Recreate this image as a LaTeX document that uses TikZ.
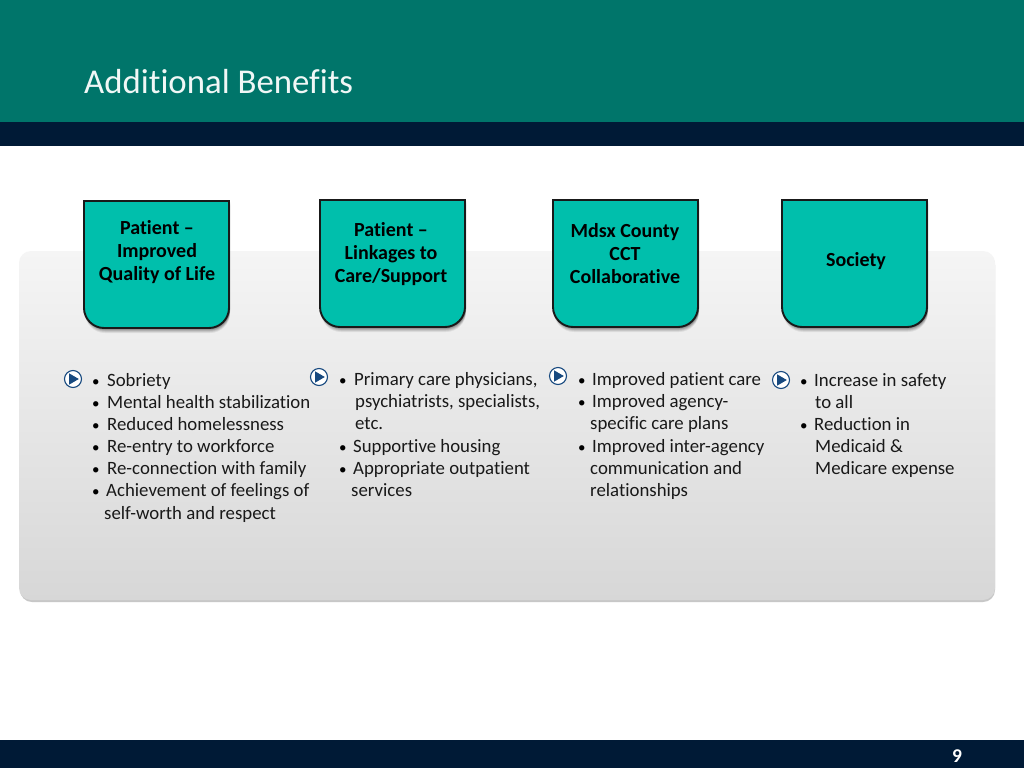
\documentclass[tikz,border=0pt]{standalone}
\usepackage{fontspec}
\setmainfont{Carlito}[Ligatures=CommonOff]
\definecolor{headteal}{HTML}{00756A}
\definecolor{navybar}{HTML}{001A36}
\definecolor{cardteal}{HTML}{00BFAC}
\definecolor{iconblue}{HTML}{17497F}
\definecolor{paneltop}{HTML}{F5F5F5}
\definecolor{panelbot}{HTML}{D7D7D7}
\tikzset{
  x=1pt,y=-1pt,
  cardtext/.style={font=\fontsize{20}{23}\selectfont\bfseries,text=black,align=center,inner sep=0pt},
  line/.style={font=\fontsize{18.8}{22}\selectfont,text=black!90,anchor=base west,inner sep=0pt},
  bul/.style={font=\fontsize{15}{22}\selectfont,text=black,anchor=base west,inner sep=0pt},
  cardedge/.style={draw=black!90,line width=1.9pt,fill=cardteal},
  iconring/.style={circle,draw=iconblue,line width=1.1pt,fill=white,minimum size=17pt,inner sep=0pt},
  icontri/.style={fill=iconblue,draw=none}
}
\newcommand{\cardpath}[4]{% x1,x2,ytop,ybottom
  (#1,#3) -- (#2,#3) -- (#2,#4-20) .. controls (#2,#4-9) and (#2-9,#4) .. (#2-20,#4) -- (#1+20,#4) .. controls (#1+9,#4) and (#1,#4-9) .. (#1,#4-20) -- cycle
}
\newcommand{\cardat}[3]{% x1,x2,ytop
  \pgfmathsetmacro{\cb}{#3+127}
  \foreach \o/\a in {5/.07,4/.09,3/.11,2/.13,1/.15}{
    \fill[black,opacity=\a] \cardpath{#1+1}{#2+1}{#3+\o}{\cb+\o};
  }
  \path[cardedge] \cardpath{#1}{#2}{#3}{\cb};
}
\newcommand{\iconat}[3]{% name,x,y
  \node[iconring] (#1) at (#2,#3) {};
  \fill[icontri] (#2-3.8,#3-5.6) -- (#2+5.8,#3) -- (#2-3.8,#3+5.6) -- cycle;
}
\begin{document}
\begin{tikzpicture}
\useasboundingbox (0,0) rectangle (1024,768);
\fill[white] (0,0) rectangle (1024,768);
\fill[headteal] (0,0) rectangle (1024,122);
\fill[navybar] (0,122) rectangle (1024,146);
\fill[navybar] (0,740) rectangle (1024,768);
\node[anchor=base west,inner sep=0pt,text=white!94!headteal,font=\fontsize{34.8}{36}\selectfont] (title) at (84,93) {Additional Benefits};
\node[anchor=base,inner sep=0pt,text=white,font=\fontsize{19.5}{22}\selectfont\bfseries] (pagenum) at (957,762) {9};
% panel
\fill[black!22,rounded corners=12pt] (20,253) rectangle (995,602);
\shade[top color=paneltop,bottom color=panelbot,rounded corners=12pt] (19,251) rectangle (995,600);
% cards
\cardat{84}{229}{201}
\cardat{320}{465}{200}
\cardat{553}{698}{200}
\cardat{782}{927}{200}
\node[cardtext] (c1) at (157,252.5) {Patient –\\Improved\\Quality of Life};
\node[cardtext] (c2) at (391,254.5) {Patient –\\Linkages to\\Care/Support};
\node[cardtext] (c3) at (625,253.5) {Mdsx County\\CCT\\Collaborative};
\node[cardtext] (c4) at (856,261.5) {Society};
% icons
\iconat{i1}{73}{379}
\iconat{i2}{319}{377}
\iconat{i3}{558}{376}
\iconat{i4}{781}{380}
% column 1
\node[bul] (b11) at (92,386) {•}; \node[line] (t11) at (107,386) {Sobriety};
\node[bul] (b12) at (92,408) {•}; \node[line] (t12) at (107,408) {Mental health stabilization};
\node[bul] (b13) at (92,430) {•}; \node[line] (t13) at (107,430) {Reduced homelessness};
\node[bul] (b14) at (92,452.5) {•}; \node[line] (t14) at (107,452.5) {Re-entry to workforce};
\node[bul] (b15) at (92,474.5) {•}; \node[line] (t15) at (107,474.5) {Re-connection with family};
\node[bul] (b16) at (92,496.5) {•}; \node[line] (t16) at (106,496.5) {Achievement of feelings of};
\node[line] (t17) at (104,519) {self-worth and respect};
% column 2
\node[bul] (b21) at (339,385) {•}; \node[line] (t21) at (354,385) {Primary care physicians,};
\node[line] (t22) at (355,407) {psychiatrists, specialists,};
\node[line] (t23) at (355,429) {etc.};
\node[bul] (b24) at (339,452) {•}; \node[line] (t24) at (353,452) {Supportive housing};
\node[bul] (b25) at (339,474) {•}; \node[line] (t25) at (353,474) {Appropriate outpatient};
\node[line] (t26) at (351,496) {services};
% column 3
\node[bul] (b31) at (578,385) {•}; \node[line] (t31) at (592,385) {Improved patient care};
\node[bul] (b32) at (578,407) {•}; \node[line] (t32) at (592,407) {Improved agency-};
\node[line] (t33) at (590,429) {specific care plans};
\node[bul] (b34) at (578,452) {•}; \node[line] (t34) at (592,452) {Improved inter-agency};
\node[line] (t35) at (590,474) {communication and};
\node[line] (t36) at (590,496) {relationships};
% column 4
\node[bul] (b41) at (800,386) {•}; \node[line] (t41) at (814,386) {Increase in safety};
\node[line] (t42) at (815,408) {to all};
\node[bul] (b43) at (800,430) {•}; \node[line] (t43) at (814,430) {Reduction in};
\node[line] (t44) at (815,452.5) {Medicaid \&};
\node[line] (t45) at (815,474.5) {Medicare expense};
\end{tikzpicture}
\end{document}
